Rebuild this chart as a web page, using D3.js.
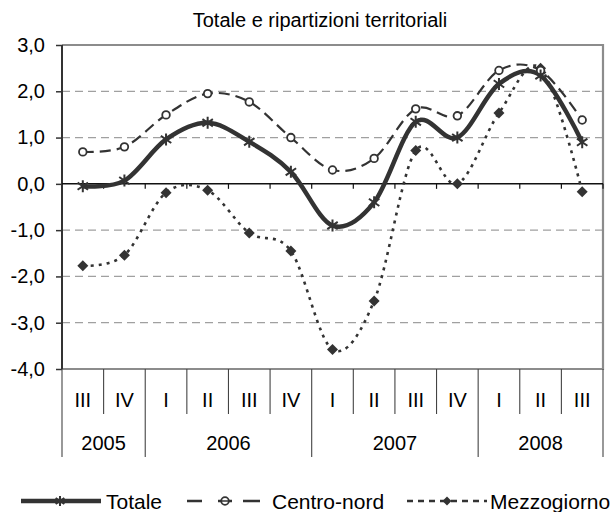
<!DOCTYPE html>
<html>
<head>
<meta charset="utf-8">
<script src="https://cdn.jsdelivr.net/npm/d3@7"></script>
<style>
  html, body { margin: 0; padding: 0; background: #fff; }
  text { font-family: "Liberation Sans", Arial, sans-serif; fill: #000; }
</style>
</head>
<body>
<svg id="chart" width="615" height="512"></svg>
<script>
const title = "Totale e ripartizioni territoriali";
const quarters = ["III","IV","I","II","III","IV","I","II","III","IV","I","II","III"];
const years = ["2005","2006","2007","2008"];
const yearSpans = [2, 4, 4, 3];
const yTicks = [-4, -3, -2, -1, 0, 1, 2, 3];
const gridValues = [-3, -2, -1, 1, 2];
const totale      = [-0.05, 0.07, 0.96, 1.32, 0.91, 0.26, -0.90, -0.40, 1.34, 1.00, 2.16, 2.34, 0.90];
const centroNord  = [0.69, 0.80, 1.49, 1.95, 1.77, 1.00, 0.30, 0.55, 1.62, 1.47, 2.45, 2.45, 1.38];
const mezzogiorno = [-1.77, -1.54, -0.19, -0.14, -1.06, -1.45, -3.58, -2.53, 0.72, 0.00, 1.53, 2.50, -0.17];
const seriesNames = ["Totale", "Centro-nord", "Mezzogiorno"];

(function () {
const svg = d3.select("#chart");
const W = 615, H = 512;
const pLeft = 62, pRight = 603, pTop = 45, pBottom = 369;
const ink = "#333";
const fs = 20;

svg.append("rect").attr("width", W).attr("height", H).attr("fill", "#fff");

const xb = d3.scaleLinear().domain([0, quarters.length]).range([pLeft, pRight]);
const y = d3.scaleLinear().domain([-4, 3]).range([pBottom, pTop]);
const loc = d3.formatLocale({decimal: ",", thousands: ".", grouping: [3], currency: ["", "€"], minus: "-"});
const fmt = loc.format(".1f");

// title
svg.append("text").attr("x", 320).attr("y", 27).attr("text-anchor", "middle")
  .attr("font-size", fs).text(title);

// gridlines
svg.append("g").selectAll("line").data(gridValues).join("line")
  .attr("x1", pLeft).attr("x2", pRight)
  .attr("y1", d => y(d)).attr("y2", d => y(d))
  .attr("stroke", "#a0a0a0").attr("stroke-width", 1.2).attr("stroke-dasharray", "8,5");

// frame (top, right, bottom)
svg.append("path")
  .attr("d", `M${pLeft},${y(3)}H${pRight}V${y(-4)}H${pLeft}`)
  .attr("fill", "none").attr("stroke", "#8c8c8c").attr("stroke-width", 2.2);

// y axis
const yAxis = d3.axisLeft(y).tickValues(yTicks).tickSize(6).tickPadding(11).tickFormat(fmt);
const gy = svg.append("g").attr("transform", `translate(${pLeft},0)`).call(yAxis);
gy.select(".domain").remove();
gy.selectAll(".tick line").attr("stroke", ink).attr("stroke-width", 1.5);
gy.selectAll(".tick text").attr("font-size", fs).attr("fill", "#000")
  .attr("font-family", "Liberation Sans, Arial, sans-serif");
svg.append("line").attr("x1", pLeft).attr("x2", pLeft).attr("y1", y(3)).attr("y2", y(-4))
  .attr("stroke", ink).attr("stroke-width", 2);

// zero axis with small ticks
const bounds = d3.range(quarters.length + 1);
svg.append("line").attr("x1", pLeft).attr("x2", pRight).attr("y1", y(0)).attr("y2", y(0))
  .attr("stroke", "#111").attr("stroke-width", 1.5);
svg.append("g").selectAll("line").data(bounds.slice(1)).join("line")
  .attr("x1", d => xb(d)).attr("x2", d => xb(d))
  .attr("y1", y(0)).attr("y2", y(0) + 5)
  .attr("stroke", "#111").attr("stroke-width", 1.2);

// category dividers
const yearBounds = [0];
yearSpans.forEach((s, i) => yearBounds.push(yearBounds[i] + s));
svg.append("g").selectAll("line").data(bounds).join("line")
  .attr("x1", d => xb(d)).attr("x2", d => xb(d))
  .attr("y1", pBottom).attr("y2", d => yearBounds.includes(d) ? 457 : 414)
  .attr("stroke", "#444").attr("stroke-width", 1.1);

// quarter labels
svg.append("g").selectAll("text").data(quarters).join("text")
  .attr("x", (d, i) => xb(i + 0.5)).attr("y", 407).attr("text-anchor", "middle")
  .attr("font-size", fs).text(d => d);
// year labels
svg.append("g").selectAll("text").data(years).join("text")
  .attr("x", (d, i) => xb((yearBounds[i] + yearBounds[i + 1]) / 2)).attr("y", 450)
  .attr("text-anchor", "middle").attr("font-size", fs).text(d => d);

// series
const line = d3.line().x((d, i) => xb(i + 0.5)).y(d => y(d)).curve(d3.curveCardinal.tension(0));
const styles = [
  {data: totale, width: 4.5, dash: null},
  {data: centroNord, width: 2.2, dash: "11,6"},
  {data: mezzogiorno, width: 2.6, dash: "3,5"}
];
[2, 1, 0].forEach(k => {
  const s = styles[k];
  svg.append("path").datum(s.data).attr("d", line)
    .attr("fill", "none").attr("stroke", ink).attr("stroke-width", s.width)
    .attr("stroke-dasharray", s.dash);
});

function star(g, cx, cy, r) {
  const p = `M${cx},${cy - r}V${cy + r}M${cx - r * 0.87},${cy - r * 0.6}L${cx + r * 0.87},${cy + r * 0.6}M${cx - r * 0.87},${cy + r * 0.6}L${cx + r * 0.87},${cy - r * 0.6}`;
  g.append("path").attr("d", p).attr("stroke", ink).attr("stroke-width", 2).attr("fill", "none");
}
function circ(g, cx, cy) {
  g.append("circle").attr("cx", cx).attr("cy", cy).attr("r", 3.8)
    .attr("fill", "#fff").attr("stroke", ink).attr("stroke-width", 1.8);
}
function diamond(g, cx, cy, r) {
  g.append("path").attr("d", `M${cx},${cy - r}L${cx + r},${cy}L${cx},${cy + r}L${cx - r},${cy}Z`).attr("fill", ink);
}

const gm = svg.append("g");
mezzogiorno.forEach((v, i) => diamond(gm, xb(i + 0.5), y(v), 5.5));
centroNord.forEach((v, i) => circ(gm, xb(i + 0.5), y(v)));
totale.forEach((v, i) => star(gm, xb(i + 0.5), y(v), 6));

// legend
const ly = 501;
const lfs = 21;
const lg = svg.append("g");
lg.append("line").attr("x1", 21).attr("x2", 101).attr("y1", ly).attr("y2", ly)
  .attr("stroke", ink).attr("stroke-width", 4.5);
star(lg, 60, ly, 5);
lg.append("text").attr("x", 106).attr("y", ly + 7.5).attr("font-size", lfs).text(seriesNames[0]);

lg.append("path").attr("d", `M187,${ly}H202M218,${ly}H232M243,${ly}H260`)
  .attr("stroke", ink).attr("stroke-width", 2.5);
circ(lg, 225, ly);
lg.append("line").attr("x1", 222).attr("x2", 229).attr("y1", ly).attr("y2", ly).attr("stroke", ink).attr("stroke-width", 1.5);
lg.append("text").attr("x", 272).attr("y", ly + 7.5).attr("font-size", lfs).text(seriesNames[1]);

lg.append("line").attr("x1", 407).attr("x2", 487).attr("y1", ly).attr("y2", ly)
  .attr("stroke", ink).attr("stroke-width", 2.5).attr("stroke-dasharray", "6,5");
diamond(lg, 447, ly, 4.5);
lg.append("text").attr("x", 490).attr("y", ly + 7.5).attr("font-size", lfs).text(seriesNames[2]);
})();
</script>
</body>
</html>
